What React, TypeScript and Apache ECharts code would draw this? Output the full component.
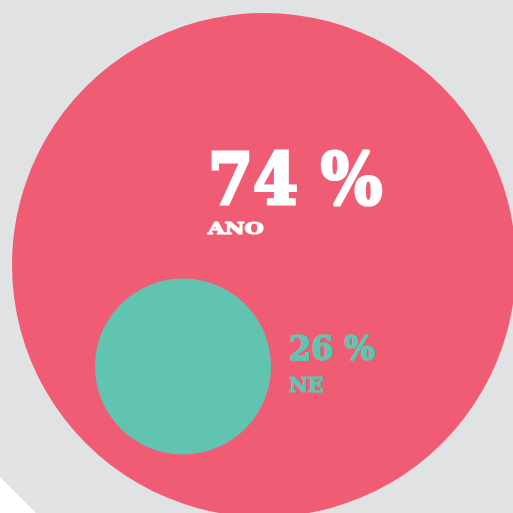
import React, { useEffect, useRef } from "react";
import * as echarts from "echarts";

const categories = ["ANO", "NE"];
const values = [74, 26];
const colors = ["#f05c74", "#60c4b0"];
const textColors = ["#ffffff", "#60c4b0"];

// layout (pixels): bubble centre and radius, label anchor
const bubbleX = [264, 183];
const bubbleY = [265, 366.5];
const bubbleR = [252, 88];
const labelX = [208, 289];
const valueTop = [143, 331];
const valueFont = [72, 34];
const valueScale = [0.9, 0.94];
const valueStroke = [3.2, 1.6];
const nameTop = [220, 375];
const nameFont = [17, 20];
const nameScale = [1.28, 1.04];
const nameStroke = [1.2, 1.2];

export default function App() {
  const ref = useRef<HTMLDivElement>(null);
  useEffect(() => {
    const chart = echarts.init(ref.current!, null, { renderer: "svg" });
    const data = values.map((v, i) => ({
      value: [bubbleX[i], bubbleY[i], v],
      name: categories[i],
      symbolSize: bubbleR[i] * 2,
      itemStyle: { color: colors[i], opacity: 1 },
    }));
    const texts: any[] = [];
    values.forEach((v, i) => {
      texts.push({
        type: "text",
        x: labelX[i],
        y: valueTop[i],
        scaleX: valueScale[i],
        z: 10,
        style: {
          text: `${v} %`,
          fill: textColors[i],
          stroke: textColors[i],
          lineWidth: valueStroke[i],
          font: `bold ${valueFont[i]}px "DejaVu Serif"`,
          verticalAlign: "top",
        },
      });
      texts.push({
        type: "text",
        x: labelX[i],
        y: nameTop[i],
        scaleX: nameScale[i],
        z: 10,
        style: {
          text: categories[i],
          fill: textColors[i],
          stroke: textColors[i],
          lineWidth: nameStroke[i],
          font: `bold ${nameFont[i]}px "DejaVu Serif"`,
          verticalAlign: "top",
        },
      });
    });
    chart.setOption({
      animation: false,
      backgroundColor: "#e1e2e4",
      grid: { left: 0, right: 0, top: 0, bottom: 0 },
      xAxis: { type: "value", min: 0, max: 513, show: false },
      yAxis: { type: "value", min: 0, max: 513, inverse: true, show: false },
      series: [
        {
          type: "scatter",
          data,
          symbol: "circle",
          silent: true,
        },
      ],
      graphic: [
        {
          type: "polygon",
          z: 20,
          shape: { points: [[0, 477], [0, 513], [36, 513]] },
          style: { fill: "#ffffff" },
        },
        ...texts,
      ],
    });
    return () => chart.dispose();
  }, []);
  return (
    <div
      ref={ref}
      style={{ position: "fixed", left: 0, top: 0, width: 513, height: 513 }}
    />
  );
}
